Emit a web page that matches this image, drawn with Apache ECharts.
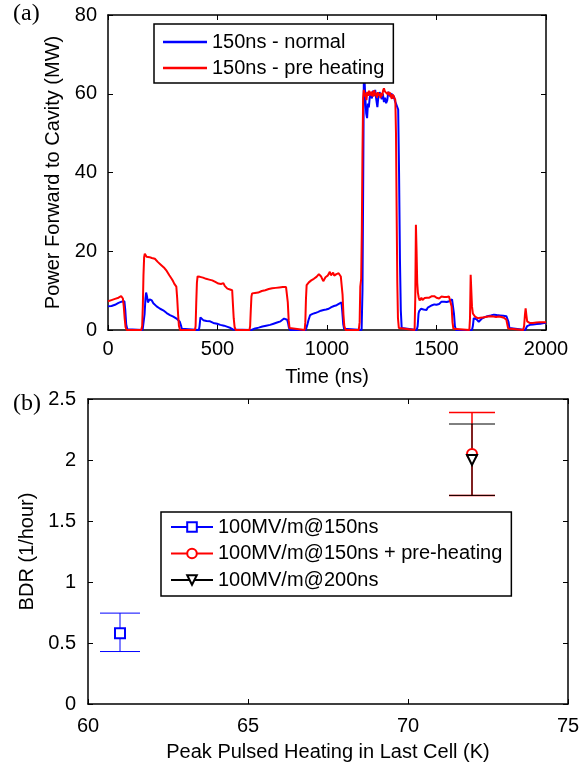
<!DOCTYPE html>
<html>
<head>
<meta charset="utf-8">
<script src="https://cdn.jsdelivr.net/npm/echarts@6/dist/echarts.min.js"></script>
<style>
  html, body { margin: 0; padding: 0; background: #fff; }
  #chart { width: 587px; height: 769px; }
</style>
</head>
<body>
<div id="chart"></div>
<script>
// (a) forward power traces, [time ns, power MW]
const normal150 = [
    [0, 6.0], [8, 6.3], [16, 6.1], [24, 6.5], [32, 6.4], [40, 6.8], [48, 6.9], [55, 7.1], [62, 7.2], [68, 7.5], [75, 7.3], [79, 5], [83, 1.5], [88, 0.2], [95, 0],
    [158, 0], [163, 0.5], [167, 4], [171, 8], [174, 9.5], [178, 8.6], [182, 7.0], [186, 6.9], [190, 7.8], [195, 7.3], [200, 7.5], [207, 6.8], [215, 6.3], [222, 6.0], [230, 5.8], [238, 5.4], [245, 5.5], [252, 5.0], [260, 4.7], [268, 4.3], [275, 4.2], [283, 3.8], [290, 3.7], [298, 3.4], [306, 3.3], [313, 2.9], [320, 2.5], [328, 2.1], [333, 1.2], [337, 0.3], [342, 0],
    [415, 0], [418, 1], [422, 3.2], [425, 3.7], [429, 3.0], [435, 2.5], [442, 2.4], [450, 2.3], [458, 2.1], [466, 2.2], [473, 2.0], [481, 1.8], [490, 1.7], [498, 1.6], [506, 1.5], [513, 1.3], [521, 1.3], [530, 1.1], [538, 0.9], [546, 0.8], [553, 0.7], [560, 0.5], [566, 0.3], [572, 0.1], [578, 0],
    [655, 0], [664, 0.2], [672, 0.4], [680, 0.5], [688, 0.6], [696, 0.7], [705, 0.9], [713, 1.0], [722, 1.1], [730, 1.2], [740, 1.3], [748, 1.4], [756, 1.6], [764, 1.7], [772, 1.9], [780, 2.0], [788, 2.2], [796, 2.4], [804, 2.9], [808, 3.2], [813, 2.8], [818, 2.6], [822, 1.8], [826, 0.6], [831, 0],
    [903, 0], [907, 0.5], [911, 1.5], [915, 2.4], [919, 2.8], [923, 3.8], [928, 3.9], [934, 4.1], [940, 4.0], [946, 4.3], [953, 4.4], [960, 4.6], [966, 4.5], [972, 4.9], [978, 5.0], [984, 5.1], [990, 5.3], [996, 5.2], [1002, 5.5], [1008, 5.4], [1014, 5.6], [1020, 5.8], [1026, 5.9], [1032, 6.1], [1038, 6.3], [1044, 6.3], [1050, 6.5], [1056, 6.7], [1062, 6.9], [1066, 7.0], [1070, 4.5], [1074, 1.5], [1078, 0.3], [1082, 0],
    [1158, 0], [1162, 10], [1165, 35], [1168, 62.5], [1171, 64], [1175, 59], [1179, 55], [1183, 53.8], [1187, 57.5], [1191, 56.5], [1195, 59], [1200, 60.2], [1205, 58.8], [1210, 60.8], [1215, 59.5], [1220, 61], [1225, 58.5], [1230, 56.6], [1235, 59.5], [1240, 60.4], [1245, 59.7], [1250, 58.6], [1255, 60], [1260, 57.9], [1265, 59], [1270, 57.6], [1275, 58.3], [1280, 60.5], [1285, 60], [1290, 59.2], [1295, 60.1], [1300, 58.8], [1305, 59.5], [1310, 58.2], [1315, 57.5], [1320, 57.8], [1325, 56], [1329, 40], [1333, 18], [1337, 5], [1341, 0.5], [1345, 0],
    [1410, 0], [1414, 1], [1418, 4.2], [1421, 4.8], [1425, 4.6], [1429, 5.4], [1433, 5.5], [1437, 4.9], [1441, 5.2], [1446, 5.0], [1450, 5.6], [1455, 5.1], [1460, 5.7], [1465, 5.4], [1470, 6.0], [1475, 5.8], [1480, 6.3], [1485, 6.0], [1490, 6.5], [1495, 6.2], [1500, 6.4], [1506, 6.8], [1512, 6.6], [1518, 7.1], [1523, 7.2], [1529, 6.9], [1535, 7.2], [1541, 7.0], [1547, 7.1], [1553, 7.0], [1559, 7.3], [1565, 7.0], [1571, 7.8], [1576, 7.6], [1580, 4], [1584, 1], [1589, 0],
    [1662, 0], [1666, 1], [1670, 3.0], [1674, 3.4], [1678, 3.0], [1683, 2.7], [1688, 2.4], [1693, 2.1], [1699, 2.3], [1705, 2.8], [1712, 3.0], [1718, 3.2], [1725, 3.1], [1732, 3.5], [1740, 3.8], [1748, 3.7], [1755, 4.0], [1762, 3.9], [1768, 4.1], [1775, 3.8], [1782, 3.6], [1790, 3.7], [1797, 3.5], [1805, 3.6], [1812, 3.4], [1819, 3.5], [1825, 3.3], [1829, 2], [1833, 0.5], [1838, 0],
    [1905, 0], [1909, 0.5], [1914, 1.0], [1920, 1.3], [1927, 1.3], [1934, 1.5], [1942, 1.4], [1950, 1.6], [1958, 1.5], [1966, 1.7], [1974, 1.6], [1982, 1.7], [1990, 1.8], [2000, 1.8]
];

const preHeat150 = [
    [0, 7.3], [8, 7.5], [16, 7.6], [24, 7.8], [32, 7.9], [40, 8.0], [48, 8.2], [55, 8.4], [60, 8.6], [64, 8.4], [68, 8.0], [72, 6], [76, 3], [80, 0.8], [85, 0],
    [152, 0], [156, 1], [159, 6], [162, 14], [165, 18.5], [168, 19.4], [172, 18.9], [176, 18.6], [180, 18.7], [185, 18.4], [190, 18.5], [195, 18.2], [200, 18.3], [207, 18.0], [214, 18.1], [220, 17.6], [227, 17.3], [234, 16.9], [241, 16.6], [248, 16.2], [255, 15.9], [262, 15.5], [268, 15.0], [274, 14.5], [280, 13.9], [286, 13.4], [292, 12.9], [298, 12.3], [303, 11.7], [308, 11.2], [312, 11.0], [316, 8], [320, 4], [324, 1], [329, 0],
    [397, 0], [400, 1], [403, 7], [406, 12], [409, 13.6], [414, 13.8], [420, 13.5], [427, 13.6], [434, 13.3], [441, 13.4], [448, 13.0], [455, 13.2], [462, 12.8], [469, 12.9], [476, 12.6], [483, 12.4], [490, 12.2], [497, 12.1], [504, 11.8], [510, 12.0], [516, 11.7], [522, 12.1], [527, 11.9], [533, 11.2], [539, 10.9], [545, 10.5], [551, 10.2], [557, 10.3], [563, 10.0], [567, 10.1], [570, 7], [574, 3], [578, 0.8], [583, 0],
    [646, 0], [649, 1], [652, 5], [655, 8.5], [658, 9.3], [664, 9.2], [671, 9.4], [678, 9.6], [686, 9.5], [694, 9.8], [702, 9.9], [710, 10.2], [718, 10.1], [726, 10.3], [734, 10.4], [742, 10.3], [750, 10.6], [758, 10.5], [766, 10.7], [774, 10.6], [782, 10.8], [790, 10.7], [798, 10.9], [806, 10.8], [813, 10.9], [818, 10.7], [821, 7], [825, 2.5], [829, 0.5], [833, 0],
    [898, 0], [901, 2], [904, 8], [907, 11.4], [912, 11.8], [917, 12.1], [922, 12.0], [928, 12.6], [934, 12.4], [940, 13.0], [946, 13.3], [952, 13.5], [958, 13.9], [963, 14.2], [968, 14.4], [973, 13.6], [978, 13.0], [983, 12.4], [988, 12.8], [993, 13.4], [998, 13.1], [1003, 13.8], [1008, 14.3], [1013, 14.8], [1018, 13.9], [1023, 14.2], [1028, 14.6], [1033, 13.8], [1038, 13.7], [1043, 14.2], [1048, 13.9], [1053, 14.4], [1058, 14.0], [1063, 13.6], [1067, 13.5], [1071, 9], [1075, 4], [1079, 1], [1085, 0],
    [1145, 0], [1149, 2], [1152, 11], [1156, 13], [1159, 25], [1162, 45], [1165, 59], [1168, 61], [1172, 59.3], [1176, 60.3], [1180, 58.4], [1184, 60.5], [1188, 59.5], [1192, 60.8], [1196, 59.6], [1200, 60.5], [1204, 59.4], [1208, 60.6], [1212, 59.3], [1216, 60.9], [1220, 59.6], [1224, 60.2], [1228, 59.0], [1232, 60.4], [1236, 59.5], [1240, 60.1], [1244, 58.9], [1248, 60.2], [1252, 59.4], [1256, 60.8], [1260, 61.4], [1264, 60.6], [1268, 60.2], [1272, 60.9], [1276, 59.9], [1280, 60.5], [1284, 59.6], [1288, 60.3], [1292, 59.3], [1296, 58.7], [1300, 59.8], [1304, 60.2], [1308, 59.3], [1312, 58.4], [1315, 50], [1318, 30], [1321, 12], [1324, 3], [1328, 0.5], [1332, 0],
    [1400, 0], [1403, 8], [1406, 26.7], [1409, 20], [1412, 12], [1415, 9.5], [1419, 8.2], [1423, 7.5], [1427, 7.9], [1431, 8.2], [1436, 7.6], [1441, 7.9], [1446, 8.1], [1451, 7.8], [1456, 8.2], [1462, 8.5], [1467, 8.2], [1473, 8.4], [1479, 8.6], [1485, 8.3], [1490, 8.6], [1495, 8.7], [1500, 8.2], [1506, 8.4], [1512, 8.0], [1517, 8.1], [1523, 8.5], [1529, 8.9], [1535, 8.4], [1541, 8.2], [1547, 8.4], [1552, 8.8], [1557, 8.5], [1562, 8.9], [1566, 8.6], [1569, 6], [1573, 2], [1577, 0.3], [1581, 0],
    [1650, 0], [1653, 3], [1656, 14], [1659, 10], [1662, 6], [1666, 4.2], [1670, 3.8], [1676, 3.4], [1682, 3.2], [1688, 3.0], [1694, 3.3], [1700, 3.1], [1706, 3.4], [1712, 3.2], [1718, 3.5], [1724, 3.3], [1730, 3.6], [1736, 3.4], [1742, 3.7], [1748, 3.5], [1754, 3.6], [1760, 3.4], [1766, 3.5], [1772, 3.3], [1778, 3.5], [1784, 3.4], [1790, 3.6], [1796, 3.3], [1802, 3.2], [1808, 3.1], [1814, 2.9], [1819, 2.6], [1823, 1.5], [1827, 0.4], [1831, 0],
    [1896, 0], [1900, 1], [1904, 4], [1907, 5.5], [1910, 4], [1914, 2.2], [1919, 1.7], [1925, 1.8], [1932, 1.6], [1940, 1.8], [1948, 1.7], [1956, 1.9], [1964, 1.8], [1972, 2.0], [1980, 1.9], [1988, 2.0], [1995, 2.1], [2000, 2.0]
];

// (b) BDR vs pulsed heating: [K, BDR, errLow, errHigh]
const bdr150 = [61, 0.58, 0.43, 0.745];
const bdr150Pre = [72, 2.05, 1.71, 2.39];
const bdr200 = [72, 2.0, 1.71, 2.295];

const FONT = "'Liberation Sans', Arial, Helvetica, sans-serif";

const chart = echarts.init(document.getElementById("chart"));

const tickAxis = (extra) => Object.assign({
    axisLine: { show: true, onZero: false, lineStyle: { color: "#000", width: 1.5 } },
    axisTick: { show: true, inside: true, length: 5, lineStyle: { color: "#000", width: 1 } },
    splitLine: { show: false },
    axisLabel: { show: false }
}, extra);

// plain numbers, no thousands separator
const mainLabel = { show: true, color: "#000", fontSize: 20, fontFamily: FONT, formatter: v => String(v) };
const nameStyle = { color: "#000", fontSize: 20, fontFamily: FONT };

const errorBar = (row, color, halfCap, width) => ({
    type: "custom",
    xAxisIndex: 2,
    yAxisIndex: 2,
    z: 2,
    silent: true,
    data: [[row[0], row[2], row[3]]],
    encode: { x: 0, y: [1, 2] },
    renderItem: (params, api) => {
        const lo = api.coord([api.value(0), api.value(1)]);
        const hi = api.coord([api.value(0), api.value(2)]);
        const st = { stroke: color, lineWidth: width };
        return {
            type: "group",
            children: [
                { type: "line", shape: { x1: lo[0], y1: lo[1], x2: hi[0], y2: hi[1] }, style: st },
                { type: "line", shape: { x1: lo[0] - halfCap, y1: lo[1], x2: lo[0] + halfCap, y2: lo[1] }, style: st },
                { type: "line", shape: { x1: hi[0] - halfCap, y1: hi[1], x2: hi[0] + halfCap, y2: hi[1] }, style: st }
            ]
        };
    }
});

const point = (name, row, color, symbol, rotate) => ({
    name: name,
    type: "line",
    xAxisIndex: 2,
    yAxisIndex: 2,
    z: 5,
    data: [[row[0], row[1]]],
    symbol: symbol,
    symbolSize: 10,
    symbolRotate: rotate || 0,
    color: color,
    lineStyle: { color: color, width: 1 },
    itemStyle: { color: color, borderWidth: 1 }
});

const option = {
    animation: false,
    backgroundColor: "#fff",
    textStyle: { fontFamily: FONT },
    graphic: [
        { type: "text", left: 13, top: 2, style: { text: "(a)", font: "24px 'Liberation Serif', 'Times New Roman', serif", fill: "#000" } },
        { type: "text", left: 13, top: 392, style: { text: "(b)", font: "24px 'Liberation Serif', 'Times New Roman', serif", fill: "#000" } }
    ],
    grid: [
        { left: 108, top: 15, width: 438, height: 315 },
        { left: 88, top: 399, width: 480, height: 305 }
    ],
    xAxis: [
        tickAxis({
            gridIndex: 0, type: "value", min: 0, max: 2000, interval: 500, position: "bottom",
            axisLabel: Object.assign({ margin: 9 }, mainLabel),
            name: "Time (ns)", nameLocation: "middle", nameGap: 37, nameTextStyle: nameStyle
        }),
        tickAxis({ gridIndex: 0, type: "value", min: 0, max: 2000, interval: 500, position: "top" }),
        tickAxis({
            gridIndex: 1, type: "value", min: 60, max: 75, interval: 5, position: "bottom",
            axisLabel: Object.assign({ margin: 12 }, mainLabel),
            name: "Peak Pulsed Heating in Last Cell (K)", nameLocation: "middle", nameGap: 38, nameTextStyle: nameStyle
        }),
        tickAxis({ gridIndex: 1, type: "value", min: 60, max: 75, interval: 5, position: "top" })
    ],
    yAxis: [
        tickAxis({
            gridIndex: 0, type: "value", min: 0, max: 80, interval: 20, position: "left",
            axisLabel: Object.assign({ margin: 11 }, mainLabel),
            name: "Power Forward to Cavity (MW)", nameLocation: "middle", nameGap: 44, nameTextStyle: nameStyle
        }),
        tickAxis({ gridIndex: 0, type: "value", min: 0, max: 80, interval: 20, position: "right" }),
        tickAxis({
            gridIndex: 1, type: "value", min: 0, max: 2.5, interval: 0.5, position: "left",
            axisLabel: Object.assign({ margin: 12 }, mainLabel),
            name: "BDR (1/hour)", nameLocation: "middle", nameGap: 47, nameTextStyle: nameStyle
        }),
        tickAxis({ gridIndex: 1, type: "value", min: 0, max: 2.5, interval: 0.5, position: "right" })
    ],
    legend: [
        {
            data: ["150ns - normal", "150ns - pre heating"],
            orient: "vertical",
            left: 154,
            top: 24,
            padding: [8, 9, 5, 9],
            itemGap: 6,
            icon: "rect",
            itemWidth: 44,
            itemHeight: 2.5,
            backgroundColor: "#fff",
            borderColor: "#000",
            borderWidth: 1.5,
            textStyle: { color: "#000", fontSize: 20, fontFamily: FONT, lineHeight: 20 }
        },
        {
            data: ["100MV/m@150ns", "100MV/m@150ns + pre-heating", "100MV/m@200ns"],
            orient: "vertical",
            left: 161,
            top: 512,
            padding: [5, 9, 6, 9],
            itemGap: 6.5,
            itemWidth: 42,
            itemHeight: 12,
            backgroundColor: "#fff",
            borderColor: "#000",
            borderWidth: 1.5,
            textStyle: { color: "#000", fontSize: 20, fontFamily: FONT, lineHeight: 20 }
        }
    ],
    series: [
        {
            name: "150ns - normal",
            type: "line",
            xAxisIndex: 0,
            yAxisIndex: 0,
            data: normal150,
            showSymbol: false,
            symbol: "none",
            color: "#0000ff",
            lineStyle: { color: "#0000ff", width: 2 }
        },
        {
            name: "150ns - pre heating",
            type: "line",
            xAxisIndex: 0,
            yAxisIndex: 0,
            data: preHeat150,
            showSymbol: false,
            symbol: "none",
            color: "#ff0000",
            lineStyle: { color: "#ff0000", width: 2 }
        },
        errorBar(bdr150, "#0000ff", 20, 1),
        errorBar(bdr150Pre, "#ff0000", 23, 1.5),
        errorBar(bdr200, "#000000", 23, 1),
        point("100MV/m@150ns", bdr150, "#0000ff", "emptyRect"),
        point("100MV/m@150ns + pre-heating", bdr150Pre, "#ff0000", "emptyCircle"),
        point("100MV/m@200ns", bdr200, "#000000", "emptyTriangle", 180)
    ]
};

chart.setOption(option);
</script>
</body>
</html>
